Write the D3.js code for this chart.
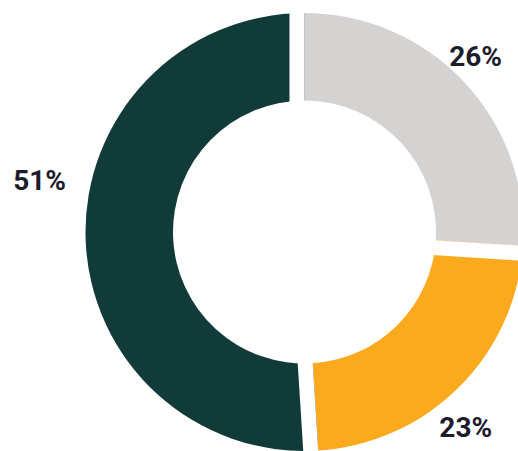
<!DOCTYPE html>
<html>
<head>
<meta charset="utf-8">
<script src="https://cdn.jsdelivr.net/npm/d3@7"></script>
<style>
  html, body { margin: 0; padding: 0; background: #ffffff; }
  svg { display: block; }
</style>
</head>
<body>
<svg id="chart" width="518" height="451"></svg>
<script>
// ---- data ----
const categories = ["A", "B", "C"];
const values = [26, 23, 51];
const labels = ["26%", "23%", "51%"];

// ---- style ----
const colors = ["#d5d2d2", "#fbaa1d", "#113b39"];
const textColor = "#1d1c2c";
const W = 518, H = 451;
const cx = 304.5, cy = 232;
const innerR = 131.5, outerR = 219;
const gapW = 15;
// side of each slice's start boundary where the white gap sits (+1 after, -1 before)
const gapSide = [-1, 1, 1];
// label placement (angle in degrees clockwise from top, radius)
const labelAngle = [44.3, 140.4, 281.1];
const labelRadius = [245, 253, 270];

const svg = d3.select("#chart");
const g = svg.append("g").attr("transform", `translate(${cx},${cy})`);

const pie = d3.pie().sort(null).value(d => d)(values);
const arc = d3.arc().innerRadius(innerR).outerRadius(outerR);

g.selectAll("path.slice")
  .data(pie)
  .enter().append("path")
  .attr("class", "slice")
  .attr("d", arc)
  .attr("fill", (d, i) => colors[i]);

// white gaps at slice boundaries
g.selectAll("line.gap")
  .data(pie)
  .enter().append("line")
  .attr("class", "gap")
  .each(function(d, i) {
    const t = d.startAngle;
    const ux = Math.sin(t), uy = -Math.cos(t);
    const px = Math.cos(t), py = Math.sin(t);
    const off = gapSide[i] * gapW / 2;
    d3.select(this)
      .attr("x1", ux * (innerR - 10) + px * off)
      .attr("y1", uy * (innerR - 10) + py * off)
      .attr("x2", ux * (outerR + 10) + px * off)
      .attr("y2", uy * (outerR + 10) + py * off);
  })
  .attr("stroke", "#ffffff")
  .attr("stroke-width", gapW);

// labels
g.selectAll("text.lbl")
  .data(pie)
  .enter().append("text")
  .attr("class", "lbl")
  .attr("x", (d, i) => Math.sin(labelAngle[i] * Math.PI / 180) * labelRadius[i])
  .attr("y", (d, i) => -Math.cos(labelAngle[i] * Math.PI / 180) * labelRadius[i])
  .attr("dy", "0.35em")
  .attr("text-anchor", "middle")
  .attr("font-family", "Roboto, 'Noto Sans', sans-serif")
  .attr("font-weight", 700)
  .attr("font-size", "28px")
  .attr("fill", textColor)
  .text((d, i) => labels[i]);
</script>
</body>
</html>
